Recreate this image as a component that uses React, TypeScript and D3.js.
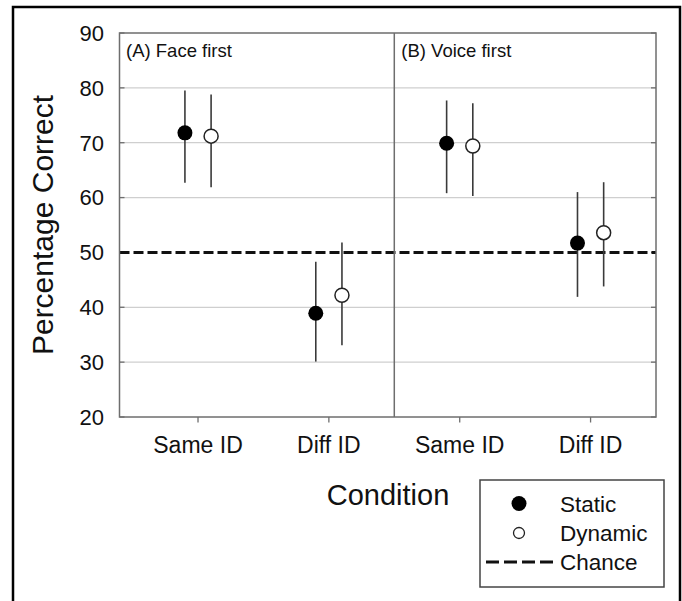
import React from "react";
import * as d3 from "d3";

const categories = ["Same ID", "Diff ID", "Same ID", "Diff ID"];
const panelLabels = ["(A) Face first", "(B) Voice first"];
const staticMean = [71.8, 38.9, 69.9, 51.7];
const staticLow = [62.7, 30.1, 60.8, 41.9];
const staticHigh = [79.5, 48.3, 77.7, 61.0];
const dynamicMean = [71.2, 42.2, 69.4, 53.6];
const dynamicLow = [61.9, 33.1, 60.3, 43.8];
const dynamicHigh = [78.8, 51.8, 77.2, 62.8];
const yTicks = [20, 30, 40, 50, 60, 70, 80, 90];
const chanceLevel = 50;
const legendItems = ["Static", "Dynamic", "Chance"];

const W = 682;
const H = 601;
const FONT = "'Liberation Sans', Arial, Helvetica, sans-serif";

export default function App() {
  const left = 119.5;
  const right = 656;
  const top = 33;
  const bottom = 417;
  const x = d3.scaleLinear().domain([0.4, 4.5]).range([left, right]);
  const y = d3.scaleLinear().domain([20, 90]).range([bottom, top]);
  const off = 0.1;
  const axisColor = "#6e6e6e";
  const gridColor = "#cfcfcf";
  const barColor = "#3a3a3a";

  return (
    <svg
      width={W}
      height={H}
      style={{ position: "absolute", left: 0, top: 0, background: "#fff" }}
      fontFamily={FONT}
    >
      <rect x={0} y={0} width={W} height={H} fill="#fff" />
      {/* outer frame */}
      <rect x={13} y={7} width={667} height={620} fill="none" stroke="#000" strokeWidth={2.5} />

      {/* gridlines */}
      {yTicks
        .filter((t) => t !== 20 && t !== 90 && t !== chanceLevel)
        .map((t) => (
          <line key={"g" + t} x1={left} x2={right} y1={y(t)} y2={y(t)} stroke={gridColor} strokeWidth={1.2} />
        ))}

      {/* left/right inner ticks */}
      {yTicks.map((t) => (
        <g key={"t" + t}>
          <line x1={left} x2={left + 5} y1={y(t)} y2={y(t)} stroke={axisColor} strokeWidth={1.3} />
          <line x1={right - 5} x2={right} y1={y(t)} y2={y(t)} stroke={axisColor} strokeWidth={1.3} />
        </g>
      ))}

      {/* chance line */}
      <line
        x1={left}
        x2={right}
        y1={y(chanceLevel)}
        y2={y(chanceLevel)}
        stroke="#111"
        strokeWidth={3}
        strokeDasharray="10,4"
      />

      {/* panel divider */}
      <line x1={x(2.5)} x2={x(2.5)} y1={top} y2={bottom} stroke={axisColor} strokeWidth={1.5} />

      {/* plot frame */}
      <rect x={left} y={top} width={right - left} height={bottom - top} fill="none" stroke={axisColor} strokeWidth={1.5} />

      {/* bottom ticks */}
      {categories.map((c, i) => (
        <line key={"bt" + i} x1={x(i + 1)} x2={x(i + 1)} y1={bottom} y2={bottom + 5.5} stroke={axisColor} strokeWidth={1.3} />
      ))}

      {/* y tick labels */}
      {yTicks.map((t) => (
        <text key={"yl" + t} x={104} y={y(t)} dy="0.36em" textAnchor="end" fontSize={22} fill="#111">
          {t}
        </text>
      ))}

      {/* category labels */}
      {categories.map((c, i) => (
        <text key={"cl" + i} x={x(i + 1)} y={453} textAnchor="middle" fontSize={23} fill="#111">
          {c}
        </text>
      ))}

      {/* panel labels */}
      <text x={126} y={57} fontSize={18.5} fill="#111">{panelLabels[0]}</text>
      <text x={x(2.5) + 7} y={57} fontSize={18.5} fill="#111">{panelLabels[1]}</text>

      {/* error bars and points */}
      {categories.map((c, i) => (
        <g key={"p" + i}>
          <line x1={x(i + 1 - off)} x2={x(i + 1 - off)} y1={y(staticLow[i])} y2={y(staticHigh[i])} stroke={barColor} strokeWidth={1.6} />
          <line x1={x(i + 1 + off)} x2={x(i + 1 + off)} y1={y(dynamicLow[i])} y2={y(dynamicHigh[i])} stroke={barColor} strokeWidth={1.6} />
          <circle cx={x(i + 1 - off)} cy={y(staticMean[i])} r={7.5} fill="#000" />
          <circle cx={x(i + 1 + off)} cy={y(dynamicMean[i])} r={7} fill="#fff" stroke="#222" strokeWidth={1.5} />
        </g>
      ))}

      {/* axis titles */}
      <text
        transform={`translate(53, ${(top + bottom) / 2}) rotate(-90)`}
        textAnchor="middle"
        fontSize={30}
        fill="#111"
      >
        Percentage Correct
      </text>
      <text x={388} y={505} textAnchor="middle" fontSize={29} fill="#111">
        Condition
      </text>

      {/* legend */}
      <rect x={480} y={480} width={184} height={107} fill="#fff" stroke="#444" strokeWidth={1.5} />
      <circle cx={519} cy={503.5} r={7.5} fill="#000" />
      <circle cx={519} cy={533} r={5.5} fill="#fff" stroke="#222" strokeWidth={1.3} />
      <line x1={486} x2={554} y1={562} y2={562} stroke="#111" strokeWidth={3} strokeDasharray="13,5" />
      {legendItems.map((t, i) => (
        <text key={"lg" + i} x={560} y={511.5 + i * 29.3} fontSize={22.5} fill="#111">
          {t}
        </text>
      ))}
    </svg>
  );
}
